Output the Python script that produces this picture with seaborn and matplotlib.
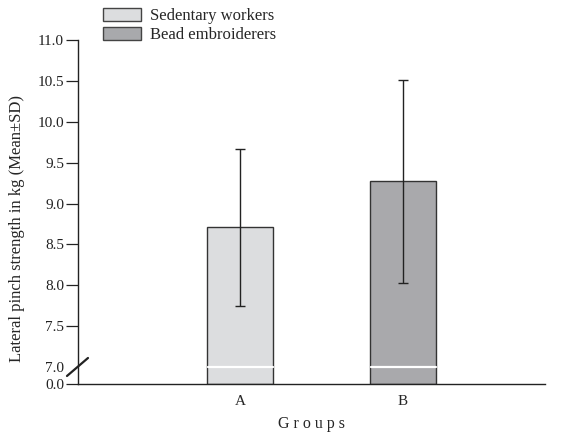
import numpy as np
import pandas as pd
import matplotlib.pyplot as plt
import seaborn as sns
from matplotlib.patches import Patch

sns.set_style("ticks")
plt.rcParams['font.family'] = ['Liberation Serif', 'DejaVu Serif']

groups = ['A', 'B']
labels = ['Sedentary workers', 'Bead embroiderers']
means = [8.71, 9.27]
sds = [0.96, 1.24]
colors = ['#dcdddf', '#a8a9ac']

data = pd.DataFrame({'group': groups, 'mean': means, 'sd': sds, 'label': labels})

# broken axis: 0..7 squeezed into a small band, 7..11 linear
gap = 17 / 82


def fwd(y):
    y = np.asarray(y, dtype=float)
    return np.where(y >= 7, y - 7 + gap, y * gap / 7)


def inv(u):
    u = np.asarray(u, dtype=float)
    return np.where(u >= gap, u + 7 - gap, u * 7 / gap)


fig = plt.figure(figsize=(5.61, 4.33), dpi=100)
ax = fig.add_axes([78 / 561, 1 - 384 / 433, 467 / 561, 344 / 433])

sns.barplot(data=data, x='group', y='mean', hue='group', palette=colors,
            width=0.405, edgecolor='#333333', linewidth=1.0, legend=False, ax=ax)
ax.errorbar(x=np.arange(len(groups)), y=data['mean'], yerr=data['sd'], fmt='none',
            ecolor='#222222', elinewidth=1.0, capsize=3.6, capthick=1.0)

ax.set_yscale('function', functions=(fwd, inv))
ax.set_ylim(0, 11)
ax.set_xlim(-0.994, 1.871)
ax.set_yticks([0, 7, 7.5, 8, 8.5, 9, 9.5, 10, 10.5, 11])
ax.set_yticklabels(['0.0', '7.0', '7.5', '8.0', '8.5', '9.0', '9.5', '10.0', '10.5', '11.0'])
ax.yaxis.get_major_ticks()[1].tick1line.set_visible(False)
ax.tick_params(axis='y', length=9, width=0.9, labelsize=11, colors='#222222', pad=1)
ax.tick_params(axis='x', length=0, labelsize=11, pad=8)
sns.despine(ax=ax)
for s in ['left', 'bottom']:
    ax.spines[s].set_linewidth(1.0)
    ax.spines[s].set_color('#222222')

# white break line across the bars
for p in ax.patches:
    ax.plot([p.get_x() + 0.003, p.get_x() + p.get_width() - 0.003], [6.96, 6.96],
            color='white', lw=1.6, zorder=5)

# break mark on the y axis
ax.plot([-0.0236, 0.0214], [0.0233, 0.0756], transform=ax.transAxes,
        color='#222222', lw=1.6, clip_on=False)

ax.set_xlabel('G r o u p s', fontsize=11.5, labelpad=6)
ax.set_ylabel('Lateral pinch strength in kg (Mean±SD)', fontsize=12)
ax.yaxis.set_label_coords(-0.113, 0.453)

handles = [Patch(facecolor=c, edgecolor='#444444', linewidth=1.0) for c in colors]
fig.legend(handles, labels, loc='upper left', bbox_to_anchor=(96 / 561, 1 - 1 / 433),
           frameon=False, fontsize=12, handlelength=2.3, handleheight=0.85,
           handletextpad=0.55, labelspacing=0.15, borderaxespad=0)

fig.savefig('out.png', dpi=100)
